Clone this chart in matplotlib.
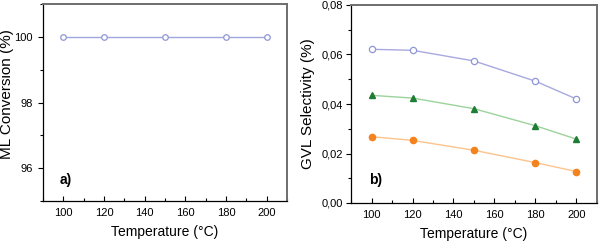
import matplotlib
matplotlib.use("Agg")
import matplotlib.pyplot as plt
from matplotlib.ticker import MultipleLocator, FuncFormatter

plt.rcParams['font.family'] = ['Liberation Sans', 'DejaVu Sans']

temps = [100, 120, 150, 180, 200]
conversion = [100, 100, 100, 100, 100]
sel_blue = [0.0621, 0.0617, 0.0574, 0.0492, 0.0420]
sel_green = [0.0435, 0.0424, 0.0381, 0.0312, 0.0258]
sel_orange = [0.0268, 0.0253, 0.0213, 0.0163, 0.0127]

fig = plt.figure(figsize=(6, 2.42), dpi=100)
ax1 = fig.add_axes([43/600, 1-201/242, 244/600, 197/242])
ax2 = fig.add_axes([351/600, 1-203/242, 246/600, 198/242])

def style(ax, ypad):
    for s in ['top', 'right']:
        ax.spines[s].set_color('#6e6e6e')
        ax.spines[s].set_linewidth(1.4)
    for s in ['left', 'bottom']:
        ax.spines[s].set_color('black')
        ax.spines[s].set_linewidth(0.9)
    ax.tick_params(axis='x', which='both', direction='in', top=False, labelsize=8, pad=5)
    ax.tick_params(axis='y', which='both', direction='out', right=False, labelsize=8, pad=ypad)
    ax.tick_params(which='major', length=3.3, width=0.8)
    ax.tick_params(which='minor', length=2, width=0.8)
    ax.set_xlim(90, 210)
    ax.xaxis.set_major_locator(MultipleLocator(20))
    ax.xaxis.set_minor_locator(MultipleLocator(10))
    ax.set_xlabel('Temperature (°C)', fontsize=10, labelpad=5)

style(ax1, 4.2)
ax1.plot(temps, conversion, color='#9fa8dc', lw=1.0, marker='o', ms=4,
         mfc='white', mec='#8f96d6', mew=0.9)
ax1.set_ylim(95, 101)
ax1.yaxis.set_major_locator(MultipleLocator(2))
ax1.yaxis.set_minor_locator(MultipleLocator(1))
ax1.set_ylabel('ML Conversion (%)', fontsize=11)
ax1.yaxis.set_label_coords(-0.118, 0.545)
ax1.text(0.07, 0.107, 'a)', transform=ax1.transAxes, fontsize=10, fontweight='bold',
         va='center', ha='left')
ax1.set_yticks([96, 98, 100])

style(ax2, 2.3)
ax2.plot(temps, sel_blue, color='#a7a9e0', lw=1.0, marker='o', ms=4.5,
         mfc='white', mec='#8f96d6', mew=0.9)
ax2.plot(temps, sel_green, color='#9bd39b', lw=1.0, marker='^', ms=4.5,
         mfc='#1e7d34', mec='#1e7d34')
ax2.plot(temps, sel_orange, color='#fdc38c', lw=1.0, marker='o', ms=4.5,
         mfc='#f4821f', mec='#f4821f')
ax2.set_ylim(0, 0.08)
ax2.yaxis.set_major_locator(MultipleLocator(0.02))
ax2.yaxis.set_minor_locator(MultipleLocator(0.01))
ax2.yaxis.set_major_formatter(FuncFormatter(lambda v, p: f"{v:.2f}".replace('.', ',')))
ax2.set_ylabel('GVL Selectivity (%)', fontsize=11)
ax2.yaxis.set_label_coords(-0.145, 0.5)
ax2.text(0.075, 0.115, 'b)', transform=ax2.transAxes, fontsize=10, fontweight='bold',
         va='center', ha='left')

fig.savefig('out.png', dpi=100)
